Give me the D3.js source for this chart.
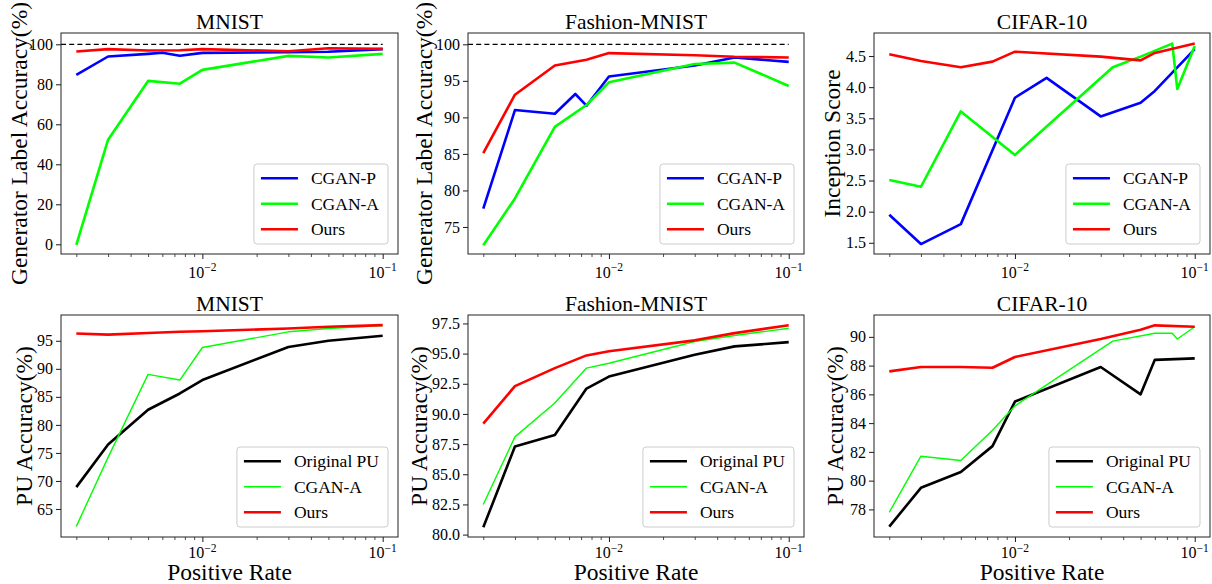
<!DOCTYPE html>
<html><head><meta charset="utf-8">
<script src="https://cdn.jsdelivr.net/npm/d3@7"></script>
<style>body{margin:0;background:#fff}svg text{font-family:"Liberation Serif","Times New Roman",serif;fill:#000}</style>
</head><body><svg id="c" width="1212" height="584" font-family="Liberation Serif, Times New Roman, serif"></svg>
<script>
// ---------- data ----------
const rates = [0.002, 0.003, 0.005, 0.0075, 0.01, 0.03, 0.05, 0.1];

// MNIST – generator label accuracy
const mnistGenPX = [0.002, 0.003, 0.005, 0.006, 0.0075, 0.01, 0.03, 0.05, 0.1];
const mnistGenP  = [84.7, 93.9, 95.2, 95.8, 94.3, 95.7, 96.0, 96.3, 97.6];
const mnistGenA  = [-0.3, 52.3, 81.7, 80.3, 87.2, 94.2, 93.4, 95.2];
const mnistGenOurs = [96.4, 97.6, 96.9, 97.0, 97.6, 96.5, 98.0, 97.7];

// Fashion-MNIST – generator label accuracy
const fashionGenPX = [0.002, 0.003, 0.005, 0.0065, 0.0075, 0.01, 0.03, 0.05, 0.1];
const fashionGenP  = [77.5, 91.0, 90.5, 93.2, 91.6, 95.6, 97.1, 98.2, 97.6];
const fashionGenA  = [72.5, 78.9, 88.7, 91.7, 94.8, 97.3, 97.5, 94.3];
const fashionGenOurs = [85.1, 93.1, 97.1, 97.9, 98.8, 98.5, 98.3, 98.2];

// CIFAR-10 – inception score
const cifarISPX = [0.002, 0.003, 0.005, 0.01, 0.015, 0.03, 0.05, 0.06, 0.1];
const cifarISP  = [1.95, 1.48, 1.80, 3.83, 4.15, 3.53, 3.75, 3.94, 4.61];
const cifarISAX = [0.002, 0.003, 0.005, 0.01, 0.035, 0.05, 0.075, 0.08, 0.1];
const cifarISA  = [2.51, 2.40, 3.61, 2.91, 4.32, 4.49, 4.70, 3.97, 4.66];
const cifarISOursX = [0.002, 0.003, 0.005, 0.0075, 0.01, 0.03, 0.05, 0.06, 0.1];
const cifarISOurs  = [4.53, 4.42, 4.32, 4.41, 4.57, 4.49, 4.43, 4.55, 4.70];

// MNIST – PU accuracy
const mnistPUOrig = [68.9, 76.5, 82.7, 85.6, 88.0, 93.9, 95.0, 95.9];
const mnistPUA    = [61.9, 74.2, 89.0, 88.0, 93.8, 96.6, 97.2, 97.7];
const mnistPUOurs = [96.3, 96.1, 96.4, 96.6, 96.7, 97.2, 97.5, 97.8];

// Fashion-MNIST – PU accuracy
const fashionPUOrig = [80.6, 87.3, 88.25, 92.1, 93.1, 94.9, 95.6, 95.95];
const fashionPUA    = [82.5, 88.1, 90.9, 93.8, 94.2, 96.0, 96.5, 97.1];
const fashionPUOurs = [89.2, 92.3, 93.8, 94.85, 95.2, 96.1, 96.7, 97.35];

// CIFAR-10 – PU accuracy
const cifarPUOrigX = [0.002, 0.003, 0.005, 0.0075, 0.01, 0.03, 0.05, 0.06, 0.1];
const cifarPUOrig  = [76.8, 79.5, 80.6, 82.4, 85.5, 87.9, 86.0, 88.4, 88.5];
const cifarPUAX = [0.002, 0.003, 0.005, 0.0075, 0.01, 0.035, 0.06, 0.075, 0.08, 0.1];
const cifarPUA  = [77.8, 81.7, 81.4, 83.5, 85.2, 89.7, 90.25, 90.25, 89.85, 90.7];
const cifarPUOursX = [0.002, 0.003, 0.005, 0.0075, 0.01, 0.03, 0.05, 0.06, 0.1];
const cifarPUOurs  = [87.6, 87.9, 87.9, 87.85, 88.6, 89.85, 90.5, 90.8, 90.7];

const titles = ["MNIST", "Fashion-MNIST", "CIFAR-10", "MNIST", "Fashion-MNIST", "CIFAR-10"];
const yLabels = ["Generator Label Accuracy(%)", "Generator Label Accuracy(%)", "Inception Score",
                 "PU Accuracy(%)", "PU Accuracy(%)", "PU Accuracy(%)"];
const yTickValues = [
  [0, 20, 40, 60, 80, 100],
  [75, 80, 85, 90, 95, 100],
  [1.5, 2.0, 2.5, 3.0, 3.5, 4.0, 4.5],
  [65, 70, 75, 80, 85, 90, 95],
  [80.0, 82.5, 85.0, 87.5, 90.0, 92.5, 95.0, 97.5],
  [78, 80, 82, 84, 86, 88, 90]
];
const xTickMajor = [0.01, 0.1];
const xTickLabels = [["10", "\u22122"], ["10", "\u22121"]];
const xLabel = "Positive Rate";
const topNames = ["CGAN-P", "CGAN-A", "Ours"];
const bottomNames = ["Original PU", "CGAN-A", "Ours"];

// ---------- layout ----------
const FONT = '"Liberation Serif","Times New Roman",serif';
const colX = [[61, 398], [468, 804], [874, 1210]];
const rowY = [[33, 254], [315, 537]];
const xTickDy = [23.5, 21];
const yDomains = [[-4.85, 105.65], [71.3, 101.55], [1.32, 4.87], [60.0, 99.6], [79.8, 98.2], [76.08, 91.52]];
const yFmt = [d3.format("d"), d3.format("d"), d3.format(".1f"), d3.format("d"), d3.format(".1f"), d3.format("d")];
const yLabelX = [27, 432, 840, 31.5, 427, 843];
const xDomain = [0.002 / Math.pow(10, 0.085), 0.1 * Math.pow(10, 0.085)];

const C = {blue: "#0000ff", green: "#00ff00", red: "#ff0000", black: "#000000"};

const panels = [
  {series: [
    {name: topNames[0], x: mnistGenPX, y: mnistGenP, color: C.blue, w: 2.6},
    {name: topNames[1], x: rates, y: mnistGenA, color: C.green, w: 2.6},
    {name: topNames[2], x: rates, y: mnistGenOurs, color: C.red, w: 2.6}], dashed: true},
  {series: [
    {name: topNames[0], x: fashionGenPX, y: fashionGenP, color: C.blue, w: 2.6},
    {name: topNames[1], x: rates, y: fashionGenA, color: C.green, w: 2.6},
    {name: topNames[2], x: rates, y: fashionGenOurs, color: C.red, w: 2.6}], dashed: true},
  {series: [
    {name: topNames[0], x: cifarISPX, y: cifarISP, color: C.blue, w: 2.6},
    {name: topNames[1], x: cifarISAX, y: cifarISA, color: C.green, w: 2.6},
    {name: topNames[2], x: cifarISOursX, y: cifarISOurs, color: C.red, w: 2.6}]},
  {series: [
    {name: bottomNames[0], x: rates, y: mnistPUOrig, color: C.black, w: 2.6},
    {name: bottomNames[1], x: rates, y: mnistPUA, color: C.green, w: 1.4},
    {name: bottomNames[2], x: rates, y: mnistPUOurs, color: C.red, w: 2.6}], xlabel: true},
  {series: [
    {name: bottomNames[0], x: rates, y: fashionPUOrig, color: C.black, w: 2.6},
    {name: bottomNames[1], x: rates, y: fashionPUA, color: C.green, w: 1.4},
    {name: bottomNames[2], x: rates, y: fashionPUOurs, color: C.red, w: 2.6}], xlabel: true},
  {series: [
    {name: bottomNames[0], x: cifarPUOrigX, y: cifarPUOrig, color: C.black, w: 2.6},
    {name: bottomNames[1], x: cifarPUAX, y: cifarPUA, color: C.green, w: 1.4},
    {name: bottomNames[2], x: cifarPUOursX, y: cifarPUOurs, color: C.red, w: 2.6}], xlabel: true}
];

const svg = d3.select("#c");
const minorTicks = [];
for (let e = -3; e <= -1; e++) for (let m = 2; m <= 9; m++) minorTicks.push(m * Math.pow(10, e));

panels.forEach((p, i) => {
  const row = Math.floor(i / 3);
  const [x0, x1] = colX[i % 3];
  const [y0, y1] = rowY[row];
  const x = d3.scaleLog().domain(xDomain).range([x0, x1]);
  const y = d3.scaleLinear().domain(yDomains[i]).range([y1, y0]);
  const g = svg.append("g").style("font-family", FONT);

  if (p.dashed) {
    g.append("line").attr("x1", x0).attr("x2", x(0.1)).attr("y1", y(100)).attr("y2", y(100))
      .attr("stroke", "#000").attr("stroke-width", 1.2).attr("stroke-dasharray", "5,3.2");
  }

  const clipId = "clip" + i;
  svg.append("clipPath").attr("id", clipId).append("rect")
    .attr("x", x0).attr("y", y0).attr("width", x1 - x0).attr("height", y1 - y0);
  const line = d3.line().x(d => x(d[0])).y(d => y(d[1]));
  p.series.forEach(s => {
    g.append("path").datum(s.x.map((v, k) => [v, s.y[k]]))
      .attr("d", line).attr("fill", "none").attr("stroke", s.color)
      .attr("stroke-width", s.w).attr("stroke-linejoin", "round").attr("clip-path", `url(#${clipId})`);
  });

  const yAxis = d3.axisLeft(y).tickValues(yTickValues[i]).tickFormat(yFmt[i]).tickSize(5).tickPadding(3);
  const ya = g.append("g").attr("transform", `translate(${x0},0)`).call(yAxis);
  ya.attr("font-family", null).attr("font-size", null);
  ya.select(".domain").remove();
  ya.selectAll("text").attr("font-size", 16).style("font-family", FONT);
  ya.selectAll("line").attr("stroke", "#000").attr("stroke-width", 0.9);

  const xMinor = d3.axisBottom(x).tickValues(minorTicks.filter(t => t >= xDomain[0] && t <= xDomain[1] && t !== 0.01 && t !== 0.1))
    .tickSize(3).tickFormat("");
  const xm = g.append("g").attr("transform", `translate(0,${y1})`).call(xMinor);
  xm.select(".domain").remove();
  xm.selectAll("line").attr("stroke", "#000").attr("stroke-width", 0.7);

  const xMajor = d3.axisBottom(x).tickValues(xTickMajor).tickSize(5).tickFormat("");
  const xa = g.append("g").attr("transform", `translate(0,${y1})`).call(xMajor);
  xa.select(".domain").remove();
  xa.selectAll("line").attr("stroke", "#000").attr("stroke-width", 0.9);
  xTickMajor.forEach((t, k) => {
    const tx = g.append("text").attr("x", x(t)).attr("y", y1 + xTickDy[row]).attr("text-anchor", "middle")
      .attr("font-size", 16).style("font-family", FONT);
    tx.append("tspan").text(xTickLabels[k][0]);
    tx.append("tspan").attr("dy", -6.5).attr("font-size", 11.5).text(xTickLabels[k][1]);
  });

  g.append("rect").attr("x", x0).attr("y", y0).attr("width", x1 - x0).attr("height", y1 - y0)
    .attr("fill", "none").attr("stroke", "#222").attr("stroke-width", 1);

  g.append("text").attr("x", (x0 + x1) / 2).attr("y", y0 - 4).attr("text-anchor", "middle")
    .attr("font-size", 21.5).style("font-family", FONT).text(titles[i]);

  g.append("text").attr("transform", `translate(${yLabelX[i]},${(y0 + y1) / 2}) rotate(-90)`)
    .attr("text-anchor", "middle").attr("font-size", 23.5).style("font-family", FONT).text(yLabels[i]);

  if (p.xlabel) {
    g.append("text").attr("x", (x0 + x1) / 2).attr("y", 580).attr("text-anchor", "middle")
      .attr("font-size", 23.5).style("font-family", FONT).text(xLabel);
  }

  const lg = g.append("g");
  const texts = p.series.map(s => s.name);
  const tmp = lg.append("text").attr("font-size", 17.5).style("font-family", FONT).text(texts[0]);
  let tw = 0;
  texts.forEach(t => { tmp.text(t); tw = Math.max(tw, tmp.node().getComputedTextLength()); });
  tmp.remove();
  const bw = 57 + tw + 9, bh = 80;
  const bx = x1 - 10 - bw, by = y1 - 10 - bh;
  lg.append("rect").attr("x", bx).attr("y", by).attr("width", bw).attr("height", bh).attr("rx", 3)
    .attr("fill", "#fff").attr("fill-opacity", 0.8).attr("stroke", "#ccc").attr("stroke-width", 1);
  p.series.forEach((s, k) => {
    const ly = by + 14.3 + k * 25.5;
    lg.append("line").attr("x1", bx + 7).attr("x2", bx + 44).attr("y1", ly).attr("y2", ly)
      .attr("stroke", s.color).attr("stroke-width", s.w);
    lg.append("text").attr("x", bx + 57).attr("y", ly + 6).attr("font-size", 17.5)
      .style("font-family", FONT).text(s.name);
  });
});
</script></body></html>
